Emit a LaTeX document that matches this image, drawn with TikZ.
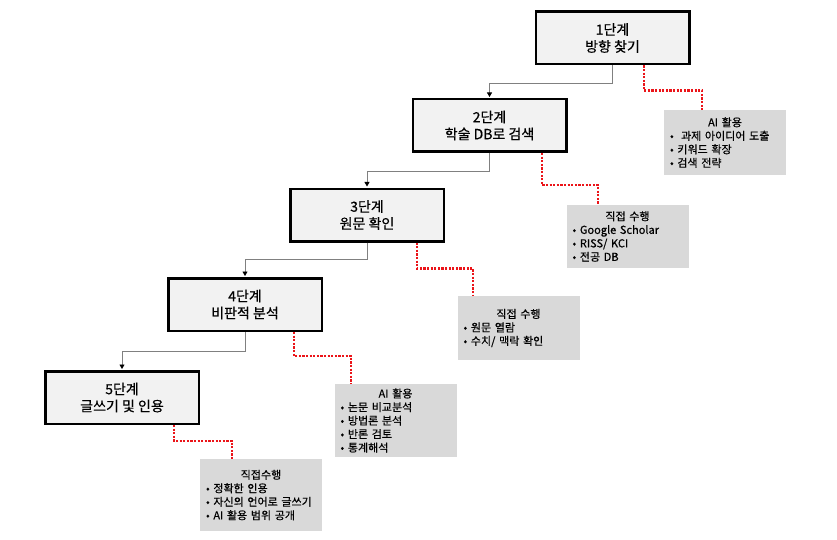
\documentclass[tikz,border=0pt]{standalone}
\usepackage{fontspec}
\setmainfont{Noto Sans CJK KR}[FakeBold=0.5]
\usetikzlibrary{arrows.meta,calc}
\definecolor{stepfill}{RGB}{242,242,242}
\definecolor{notefill}{RGB}{217,217,217}
\definecolor{flowgray}{RGB}{128,128,128}
\definecolor{dotred}{RGB}{235,20,25}

\begin{document}
\begin{tikzpicture}[x=1pt,y=-1pt,
    stepbox/.style={draw=black,line width=2.5pt,fill=stepfill,inner sep=0pt,
      minimum width=153.5pt,minimum height=52.5pt,align=center,
      font=\fontsize{14}{17}\selectfont},
    notebox/.style={fill=notefill,inner xsep=6pt,inner ysep=0pt,text width=110pt,
      align=left,font=\fontsize{11}{13.5}\selectfont},
    flow/.style={draw=flowgray,line width=0.8pt,shorten >=1pt,
      -{Triangle[color=black,width=5pt,length=4.5pt]}},
    ailine/.style={draw=dotred,line width=2.5pt,dash pattern=on 2.2pt off 1.4pt}]
  \useasboundingbox (0,0) rectangle (837,540);
  % steps
  \node[stepbox] (s1) at (612.5,38)    {1단계\\방향 찾기};
  \node[stepbox] (s2) at (489.5,125.5) {2단계\\학술 DB로 검색};
  \node[stepbox] (s3) at (367,215)     {3단계\\원문 확인};
  \node[stepbox] (s4) at (245,304.5)   {4단계\\비판적 분석};
  \node[stepbox] (s5) at (122,397.5)   {5단계\\글쓰기 및 인용};
  % notes
  \node[notebox,minimum height=65pt] (n1) at (725,142.5)
    {\makebox[\linewidth]{AI 활용}\\•\ \ 과제 아이디어 도출\\• 키워드 확장\\• 검색 전략};
  \node[notebox,minimum height=63pt] (n2) at (627.5,236.5)
    {\makebox[\linewidth]{직접 수행}\\• Google Scholar\\• RISS/ KCI\\• 전공 DB};
  \node[notebox,minimum height=64pt] (n3) at (518.5,328)
    {\makebox[\linewidth]{직접 수행}\\• 원문 열람\\• 수치/ 맥락 확인};
  \node[notebox,minimum height=73pt] (n4) at (395.5,420.5)
    {\makebox[\linewidth]{AI 활용}\\• 논문 비교분석\\• 방법론 분석\\• 반론 검토\\• 통계해석};
  \node[notebox,minimum height=72pt] (n5) at (261,495)
    {\makebox[\linewidth]{직접수행}\\• 정확한 인용\\• 자신의 언어로 글쓰기\\• AI 활용 범위 공개};
  % step to step
  \draw[flow] (s1.south) -- ++(0,17.5) -| (s2.north);
  \draw[flow] (s2.south) -- ++(0,18) -| (s3.north);
  \draw[flow] (s3.south) -- ++(0,17) -| (s4.north);
  \draw[flow] (s4.south) -- ++(0,19) -| (s5.north);
  % step to note
  \draw[ailine] ([xshift=31.5pt]s1.south) -- ++(0,25) -| ([xshift=-23pt]n1.north);
  \draw[ailine] ([xshift=52.5pt]s2.south) -- ++(0,32) -| ([xshift=-29.5pt]n2.north);
  \draw[ailine] ([xshift=50pt]s3.south) -- ++(0,26) -| ([xshift=-45.5pt]n3.north);
  \draw[ailine] ([xshift=49pt]s4.south) -- ++(0,24) -| ([xshift=-44.5pt]n4.north);
  \draw[ailine] ([xshift=52pt]s5.south) -- ++(0,16) -| ([xshift=-29pt]n5.north);
\end{tikzpicture}
\end{document}
